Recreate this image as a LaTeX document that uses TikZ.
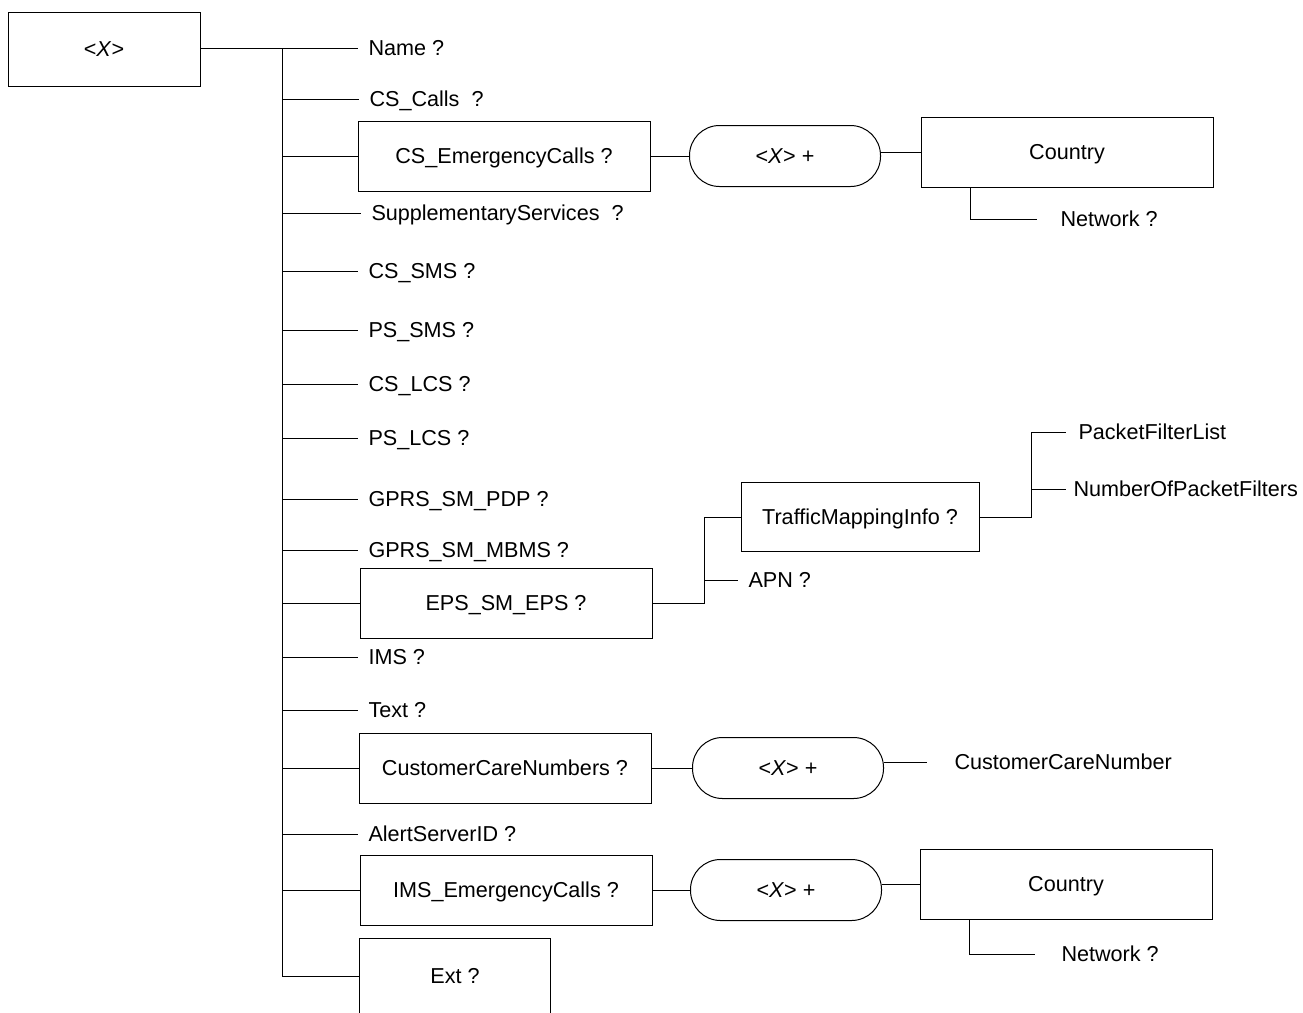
\documentclass[tikz,border=0pt]{standalone}
\usepackage{fontspec}
\setmainfont{Liberation Sans}
\usetikzlibrary{positioning}

\begin{document}
\begin{tikzpicture}[x=1pt, y=-1pt, line width=1pt,
  every node/.style={align=center, font=\fontsize{21.6}{24}\selectfont, text height=15.4pt, text depth=0pt},
  elem/.style={draw, minimum width=292, minimum height=70, inner sep=0pt},
  leaf/.style={anchor=west, inner xsep=10pt, inner ysep=2pt},
  group/.style={draw, rounded corners=30pt, minimum width=191, minimum height=61, inner sep=0pt}]
  \useasboundingbox (0,0) rectangle (1303,1012);
  \clip (0,0) rectangle (1303,1012);

  % root and first level
  \node[elem, minimum width=192, minimum height=74] (X) at (104,49) {<\textit{X}>};
  \coordinate (trunk) at (282,48);
  \node[leaf] (name) at (358,48) {Name ?};
  \node[leaf] (cscalls) at (359,99) {CS\_Calls\ \ ?};
  \node[elem] (csemerg) at (504,156) {CS\_EmergencyCalls ?};
  \node[leaf] (suppl) at (361,213) {SupplementaryServices\ \ ?};
  \node[leaf] (cssms) at (358,271) {CS\_SMS ?};
  \node[leaf] (pssms) at (358,330) {PS\_SMS ?};
  \node[leaf] (cslcs) at (358,384) {CS\_LCS ?};
  \node[leaf] (pslcs) at (358,438) {PS\_LCS ?};
  \node[leaf] (pdp) at (358,499) {GPRS\_SM\_PDP ?};
  \node[leaf] (mbms) at (358,550) {GPRS\_SM\_MBMS ?};
  \node[elem] (eps) at (506,603) {EPS\_SM\_EPS ?};
  \node[leaf] (ims) at (358,657) {IMS ?};
  \node[leaf] (txt) at (358,710) {Text ?};
  \node[elem] (ccn) at (505,768) {CustomerCareNumbers ?};
  \node[leaf] (alert) at (358,834) {AlertServerID ?};
  \node[elem] (imsemerg) at (506,890) {IMS\_EmergencyCalls ?};
  \node[elem, minimum width=191, minimum height=76] (ext) at (455,976) {Ext ?};

  \draw (X.east |- name.west) -- (name.west);
  \draw (trunk) -- (trunk |- ext.west);
  \foreach \n in {cscalls,csemerg,suppl,cssms,pssms,cslcs,pslcs,pdp,mbms,eps,ims,txt,ccn,alert,imsemerg,ext}
    \draw (\n.west -| trunk) -- (\n.west);

  % CS_EmergencyCalls
  \node[group] (csgrp) at (785,156) {<\textit{X}> +};
  \node[elem] (country1) at (1067,152) {Country};
  \node[leaf, inner xsep=23pt] (net1) at (1037,219) {Network ?};
  \draw (csemerg) -- (csgrp);
  \draw (country1.west -| csgrp.east) -- (country1.west);
  \draw ([xshift=50]country1.south west) |- (net1.west);

  % EPS_SM_EPS
  \node[elem, minimum width=238, minimum height=69] (traffic) at (860,517) {TrafficMappingInfo ?};
  \node[leaf] (apn) at (738,580) {APN ?};
  \coordinate (epsfork) at (704,603);
  \draw (eps.east) -- (epsfork) |- (traffic.west);
  \draw (epsfork |- apn.west) -- (apn.west);
  \node[leaf, inner xsep=12pt] (pfl) at (1066,432) {PacketFilterList};
  \node[leaf, inner xsep=7pt] (nopf) at (1066,489) {NumberOfPacketFilters};
  \coordinate (tfork) at (1031,517);
  \draw (traffic.east) -- (tfork) |- (pfl.west);
  \draw (tfork |- nopf.west) -- (nopf.west);

  % CustomerCareNumbers
  \node[group] (ccngrp) at (788,768) {<\textit{X}> +};
  \node[leaf, inner xsep=27pt] (ccnum) at (927,762) {CustomerCareNumber};
  \draw (ccn.east |- ccngrp.west) -- (ccngrp.west);
  \draw (ccnum.west -| ccngrp.east) -- (ccnum.west);

  % IMS_EmergencyCalls
  \node[group] (imsgrp) at (786,890) {<\textit{X}> +};
  \node[elem] (country2) at (1066,884) {Country};
  \node[leaf, inner xsep=26pt] (net2) at (1035,954) {Network ?};
  \draw (imsemerg) -- (imsgrp);
  \draw (country2.west -| imsgrp.east) -- (country2.west);
  \draw ([xshift=50]country2.south west) |- (net2.west);
\end{tikzpicture}
\end{document}
